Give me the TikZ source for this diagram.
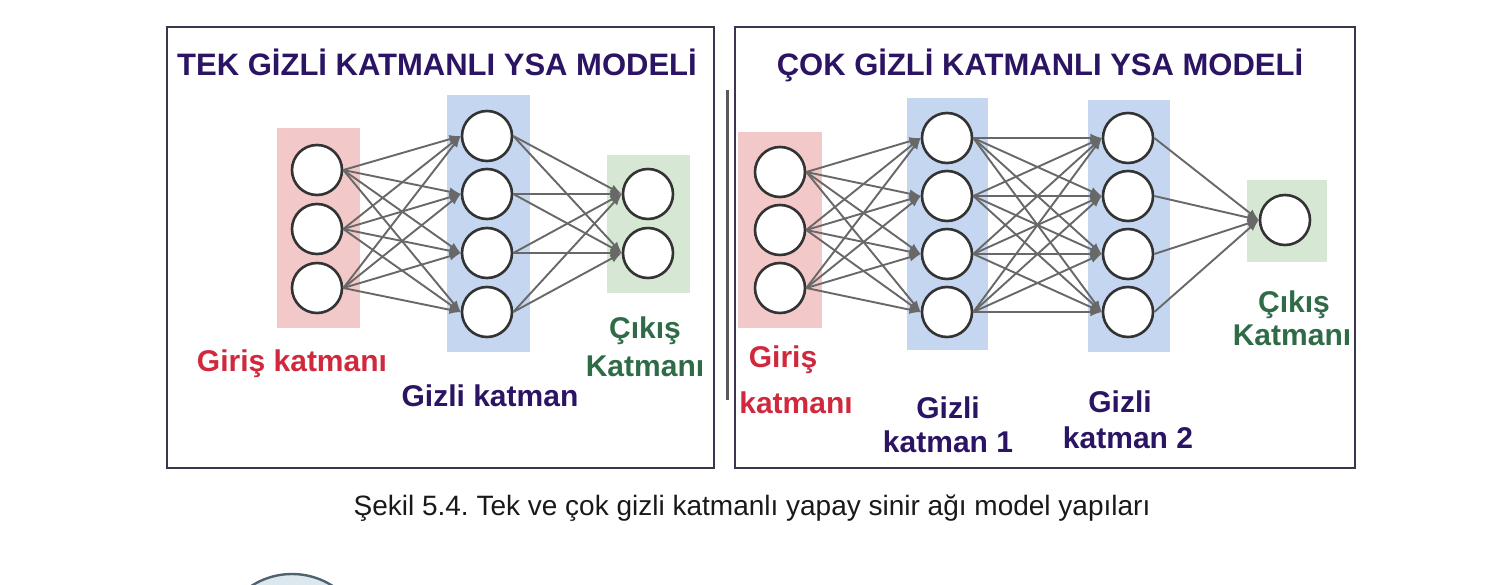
\documentclass[tikz,border=0pt]{standalone}
\usepackage{fontspec}
\setmainfont{Liberation Sans}
\frenchspacing
\definecolor{pembe}{HTML}{F3C8C9}
\definecolor{mavi}{HTML}{C5D6F1}
\definecolor{yesil}{HTML}{D6E7D3}
\definecolor{mor}{HTML}{2B1463}
\definecolor{kirmizi}{HTML}{D0283C}
\definecolor{koyuyesil}{HTML}{2F6B47}
\definecolor{cizgi}{HTML}{686868}
\definecolor{cember}{HTML}{333333}
\definecolor{cerceve}{HTML}{3F3350}
\definecolor{simge}{HTML}{4D6470}
\definecolor{simgeic}{HTML}{DDE8EE}
\tikzset{
    NE/.style ={circle, minimum size=25pt, inner sep=0pt, draw=cember, line width=1.3pt, fill=white},
    BA/.style ={font=\bfseries\fontsize{15.5}{18}\selectfont, text=mor, anchor=base},
    ET/.style ={font=\bfseries\fontsize{15}{18}\selectfont, anchor=base},
    OK/.style ={-latex, draw=cizgi, line width=0.95pt},
    CE/.style ={draw=cerceve, line width=1pt}}

\begin{document}
\begin{tikzpicture}[x=0.5pt,y=-0.5pt]
        \useasboundingbox (0,0) rectangle (1493,584);
        \fill[white] (0,0) rectangle (1493,584);
        % left panel
        \draw[CE] (167,27) rectangle (714,468);
        \draw[draw=black!65, line width=1.5pt] (727,90) -- (727,400);
        \fill[pembe] (277,128) rectangle (360,328);
        \fill[mavi] (447,95) rectangle (530,352);
        \fill[yesil] (607,155) rectangle (690,293);
        \node[BA] (lbas) at (437,75) {TEK GİZLİ KATMANLI YSA MODELİ};
        \foreach \y [count=\i] in {170,229,288} \node[NE] (LI\i) at (317,\y) {};
        \foreach \y [count=\i] in {136,194,253,312} \node[NE] (LH\i) at (487,\y) {};
        \foreach \y [count=\i] in {194,253} \node[NE] (LO\i) at (648,\y) {};
        \foreach \i in {1,2,3} \foreach \j in {1,...,4} \draw[OK] (LI\i.east) -- (LH\j.west);
        \foreach \i in {1,...,4} \foreach \j in {1,2} \draw[OK] (LH\i.east) -- (LO\j.west);
        \node[ET, text=kirmizi] (lgir) at (292,371) {Giriş katmanı};
        \node[ET, text=mor] (lgiz) at (490,406) {Gizli katman};
        \node[ET, text=koyuyesil] (lcik1) at (645,338) {Çıkış};
        \node[ET, text=koyuyesil] (lcik2) at (645,376) {Katmanı};
        % right panel
        \draw[CE] (735,27) rectangle (1355,468);
        \fill[pembe] (738,132) rectangle (822,328);
        \fill[mavi] (907,98) rectangle (988,350);
        \fill[mavi] (1088,100) rectangle (1170,352);
        \fill[yesil] (1247,180) rectangle (1327,262);
        \node[BA] (rbas) at (1040,75) {ÇOK GİZLİ KATMANLI YSA MODELİ};
        \foreach \y [count=\i] in {172,230,288} \node[NE] (RI\i) at (780,\y) {};
        \foreach \y [count=\i] in {138,196,254,312} \node[NE] (RA\i) at (947,\y) {};
        \foreach \y [count=\i] in {138,196,254,312} \node[NE] (RB\i) at (1128,\y) {};
        \node[NE] (RO) at (1285,220) {};
        \foreach \i in {1,2,3} \foreach \j in {1,...,4} \draw[OK] (RI\i.east) -- (RA\j.west);
        \foreach \i in {1,...,4} \foreach \j in {1,...,4} \draw[OK] (RA\i.east) -- (RB\j.west);
        \foreach \i in {1,...,4} \draw[OK] (RB\i.east) -- (RO.west);
        \node[ET, text=kirmizi] (rgir1) at (783,367) {Giriş};
        \node[ET, text=kirmizi] (rgir2) at (796,413) {katmanı};
        \node[ET, text=mor] (rgiz1) at (948,418) {Gizli};
        \node[ET, text=mor] (rgiz2) at (948,452) {katman 1};
        \node[ET, text=mor] (rgiz3) at (1120,412) {Gizli};
        \node[ET, text=mor] (rgiz4) at (1128,448) {katman 2};
        \node[ET, text=koyuyesil] (rcik1) at (1294,312) {Çıkış};
        \node[ET, text=koyuyesil] (rcik2) at (1292,345) {Katmanı};
        % caption
        \node[anchor=base, font=\fontsize{14}{17}\selectfont, text=black!90] (yazi) at (752,515) {Şekil 5.4. Tek ve çok gizli katmanlı yapay sinir ağı model yapıları};
        \begin{scope}
            \clip (0,0) rectangle (1493,584);
            \draw[draw=simge, fill=simgeic, line width=1.2pt] (292,649) circle[radius=37.5pt];
        \end{scope}
    \end{tikzpicture}
\end{document}
